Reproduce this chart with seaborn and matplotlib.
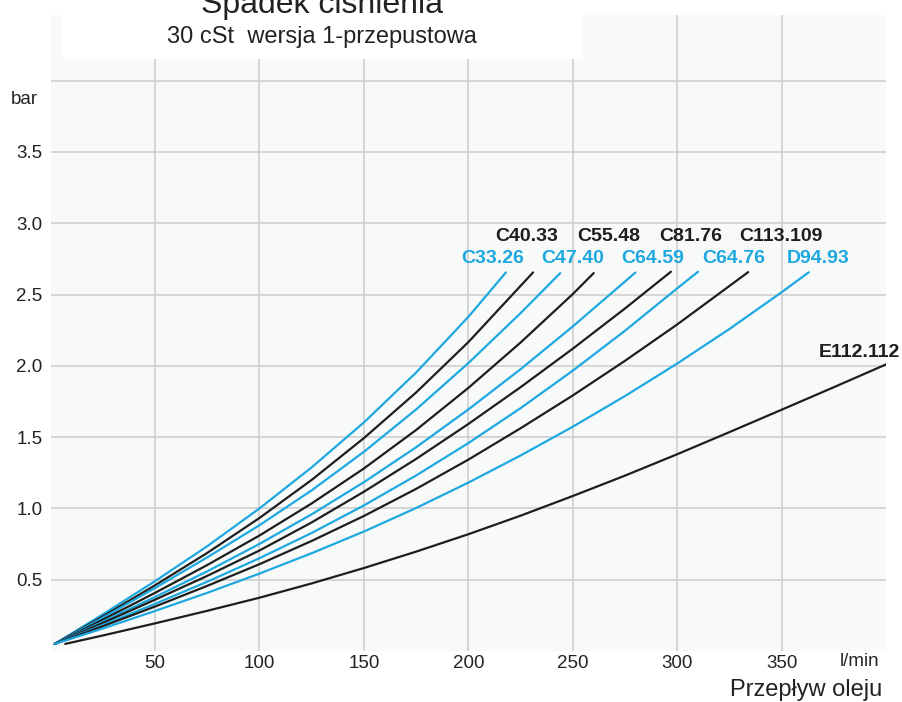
import pandas as pd
import matplotlib
matplotlib.use("Agg")
import matplotlib.pyplot as plt
import seaborn as sns
from matplotlib.patches import Rectangle

# Pressure drop curves: flow (l/min) -> pressure drop (bar)
c33_26_flow = [2, 25, 50, 75, 100, 125, 150, 175, 200, 218]
c33_26_drop = [0.05, 0.257, 0.49, 0.735, 1.0, 1.288, 1.603, 1.953, 2.343, 2.655]

c40_33_flow = [2, 25, 50, 75, 100, 125, 150, 175, 200, 231]
c40_33_drop = [0.05, 0.243, 0.461, 0.688, 0.933, 1.20, 1.493, 1.813, 2.166, 2.655]

c47_40_flow = [2, 25, 50, 75, 100, 125, 150, 175, 200, 225, 244]
c47_40_drop = [0.05, 0.234, 0.442, 0.657, 0.882, 1.127, 1.397, 1.694, 2.019, 2.369, 2.65]

c55_48_flow = [2, 25, 50, 75, 100, 125, 150, 175, 200, 225, 250, 260]
c55_48_drop = [0.05, 0.22, 0.408, 0.603, 0.81, 1.035, 1.28, 1.55, 1.845, 2.163, 2.503, 2.65]

c64_59_flow = [2, 25, 50, 75, 100, 125, 150, 175, 200, 225, 250, 280]
c64_59_drop = [0.05, 0.206, 0.379, 0.559, 0.751, 0.959, 1.184, 1.429, 1.694, 1.976, 2.276, 2.654]

c81_76_flow = [2, 25, 50, 75, 100, 125, 150, 175, 200, 225, 250, 275, 297]
c81_76_drop = [0.05, 0.197, 0.36, 0.527, 0.705, 0.902, 1.117, 1.347, 1.592, 1.85, 2.12, 2.402, 2.66]

c64_76_flow = [2, 25, 50, 75, 100, 125, 150, 175, 200, 225, 250, 275, 300, 310]
c64_76_drop = [0.05, 0.183, 0.331, 0.486, 0.651, 0.828, 1.021, 1.231, 1.458, 1.703, 1.966, 2.246, 2.543, 2.66]

c113_109_flow = [2, 25, 50, 75, 100, 125, 150, 175, 200, 225, 250, 275, 300, 334]
c113_109_drop = [0.05, 0.174, 0.312, 0.457, 0.609, 0.772, 0.947, 1.137, 1.342, 1.562, 1.792, 2.035, 2.29, 2.657]

d94_93_flow = [2, 25, 50, 75, 100, 125, 150, 175, 200, 225, 250, 275, 300, 325, 350, 363]
d94_93_drop = [0.05, 0.158, 0.281, 0.408, 0.543, 0.686, 0.838, 1.003, 1.181, 1.371, 1.573, 1.788, 2.016, 2.258, 2.516, 2.656]

e112_112_flow = [7, 25, 50, 75, 100, 125, 150, 175, 200, 225, 250, 275, 300, 325, 350, 375, 400]
e112_112_drop = [0.05, 0.109, 0.194, 0.282, 0.374, 0.474, 0.582, 0.697, 0.819, 0.949, 1.087, 1.23, 1.38, 1.535, 1.692, 1.85, 2.01]

x_ticks = [50, 100, 150, 200, 250, 300, 350]
y_ticks = [0.5, 1.0, 1.5, 2.0, 2.5, 3.0, 3.5, 4.0]
y_tick_labels = ["0.5", "1.0", "1.5", "2.0", "2.5", "3.0", "3.5", ""]

BLUE = "#1ea8e0"
BLACK = "#1e1e1e"

curves = [
    ("C33.26", c33_26_flow, c33_26_drop, BLUE),
    ("C40.33", c40_33_flow, c40_33_drop, BLACK),
    ("C47.40", c47_40_flow, c47_40_drop, BLUE),
    ("C55.48", c55_48_flow, c55_48_drop, BLACK),
    ("C64.59", c64_59_flow, c64_59_drop, BLUE),
    ("C81.76", c81_76_flow, c81_76_drop, BLACK),
    ("C64.76", c64_76_flow, c64_76_drop, BLUE),
    ("C113.109", c113_109_flow, c113_109_drop, BLACK),
    ("D94.93", d94_93_flow, d94_93_drop, BLUE),
    ("E112.112", e112_112_flow, e112_112_drop, BLACK),
]

# long table for seaborn
rows = []
for name, flow, drop, _ in curves:
    for f, d in zip(flow, drop):
        rows.append({"model": name, "flow": f, "drop": d})
df = pd.DataFrame(rows)
palette = {name: color for name, _, _, color in curves}

sns.set_theme(style="whitegrid")
plt.rcParams["font.family"] = ["Liberation Sans", "DejaVu Sans"]

fig = plt.figure(figsize=(9.02, 7.02), dpi=100)
ax = fig.add_axes([0.0561, 0.0726, 0.9262, 0.906])
ax.set_facecolor("#f8fafa")

sns.lineplot(data=df, x="flow", y="drop", hue="model", palette=palette,
             estimator=None, sort=False, legend=False, linewidth=1.6, ax=ax)

ax.set_xlim(0, 400)
ax.set_ylim(0, 4.46)
ax.set_xticks(x_ticks)
ax.set_xticklabels([str(t) for t in x_ticks], fontsize=13.5, color="#222222")
ax.set_yticks(y_ticks)
ax.set_yticklabels(y_tick_labels, fontsize=13.5, color="#222222")
ax.tick_params(axis="x", length=0, pad=3)
ax.tick_params(axis="y", length=0, pad=6)
ax.grid(True, color="#cccccc", linewidth=1.1)
ax.set_xlabel("")
ax.set_ylabel("")
for s in ax.spines.values():
    s.set_visible(False)

# curve labels
label_pos = {
    "C40.33": (228, 2.91), "C55.48": (267, 2.91), "C81.76": (306.7, 2.91),
    "C113.109": (349.8, 2.91),
    "C33.26": (211.7, 2.75), "C47.40": (249.9, 2.75), "C64.59": (288.2, 2.75),
    "C64.76": (327, 2.75), "D94.93": (367.7, 2.75),
}
for name, (lx, ly) in label_pos.items():
    ax.text(lx, ly, name, color=palette[name], fontsize=14, fontweight="bold",
            ha="center", va="center")
ax.text(406.5, 2.09, "E112.112", color=BLACK, fontsize=14, fontweight="bold",
        ha="right", va="center", clip_on=False)

# white title box over the grid
ax.add_patch(Rectangle((62 / 902, 1 - 59 / 702), 521 / 902, 44 / 702,
                       transform=fig.transFigure, facecolor="white",
                       edgecolor="none", zorder=5, clip_on=False))
fig.text(322 / 902, 1 - 13 / 702, "Spadek ciśnienia", ha="center", va="baseline",
         fontsize=23, color="#222222", zorder=6)
fig.text(322 / 902, 1 - 43 / 702, "30 cSt  wersja 1-przepustowa", ha="center",
         va="baseline", fontsize=17, color="#222222", zorder=6)

fig.text(38 / 902, 1 - 100 / 702, "bar", ha="right", va="center",
         fontsize=13.5, color="#222222")
fig.text(860 / 902, 1 - 662 / 702, "l/min", ha="center", va="center",
         fontsize=13.5, color="#222222")
fig.text(882 / 902, 1 - 690 / 702, "Przepływ oleju", ha="right", va="center",
         fontsize=17, color="#222222")

fig.savefig("out.png", dpi=100, facecolor="white")
